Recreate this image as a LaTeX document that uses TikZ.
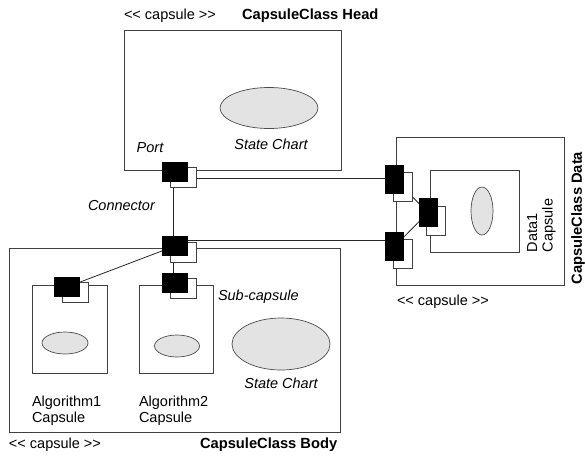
\documentclass[tikz,border=0pt]{standalone}
\usepackage{fontspec}
\setmainfont{Liberation Sans}[Ligatures=TeXOff]
\usetikzlibrary{shapes.geometric,backgrounds}
\begin{document}
\begin{tikzpicture}[x=1pt,y=-1pt,
  every node/.style={inner sep=0pt, outer sep=0pt},
  frame/.style={draw=black!75, line width=0.8pt},
  chart/.style={ellipse, draw=black!70, fill=black!11, line width=0.7pt},
  wire/.style={draw=black!85, line width=0.8pt},
  txt/.style={font=\fontsize{14.5}{15.5}\selectfont},
  itxt/.style={font=\fontsize{14.5}{15.5}\selectfont\itshape},
  btxt/.style={font=\fontsize{14.7}{16}\selectfont\bfseries},
  hport/.style={fill=black, minimum width=26pt, minimum height=20pt},
  hshadow/.style={draw=black!75, fill=white, line width=0.8pt, minimum width=26pt, minimum height=20pt},
  vport/.style={fill=black, minimum width=19pt, minimum height=29pt},
  vshadow/.style={draw=black!75, fill=white, line width=0.8pt, minimum width=19pt, minimum height=29pt}]
\useasboundingbox (0,0) rectangle (585,458);

% capsule frames
\draw[frame] (124,30) rectangle (341,170);
\draw[frame] (9,248) rectangle (340,432);
\draw[frame] (396,137) rectangle (564,285);
\draw[frame] (32,285) rectangle (107,373);
\draw[frame] (139,285) rectangle (213,373);
\draw[frame] (430,170) rectangle (519,252);

% state charts
\node[chart, minimum width=98pt, minimum height=41pt] (headchart) at (269,108) {};
\node[chart, minimum width=98pt, minimum height=52pt] (bodychart) at (281,344) {};
\node[chart, minimum width=46pt, minimum height=22pt] (alg1chart) at (65,343) {};
\node[chart, minimum width=45pt, minimum height=22pt] (alg2chart) at (177,346) {};
\node[chart, minimum width=22pt, minimum height=48pt] (datachart) at (482,211) {};

% port positions
\coordinate (hp) at (175,172);
\coordinate (bp) at (175,246);
\coordinate (a1p) at (67,287);
\coordinate (a2p) at (175,283);
\coordinate (dtp) at (394.5,179);
\coordinate (dbp) at (394.5,246.5);
\coordinate (dip) at (428,212.5);

% port shadows
\node[hshadow] (hpw) at ([xshift=8pt,yshift=-5pt]hp) {};
\node[hshadow] (bpw) at ([xshift=8pt,yshift=-6pt]bp) {};
\node[hshadow] (a1w) at ([xshift=8pt,yshift=-5pt]a1p) {};
\node[hshadow] (a2w) at ([xshift=8pt,yshift=-5pt]a2p) {};
\node[vshadow] (dtw) at ([xshift=8pt,yshift=-8pt]dtp) {};
\node[vshadow] (dbw) at ([xshift=8pt,yshift=-7pt]dbp) {};
\node[vshadow] (diw) at ([xshift=8pt,yshift=-8pt]dip) {};

% ports
\node[hport] (hpb) at (hp) {};
\node[hport] (bpb) at (bp) {};
\node[hport] (a1b) at (a1p) {};
\node[hport] (a2b) at (a2p) {};
\node[vport] (dtb) at (dtp) {};
\node[vport] (dbb) at (dbp) {};
\node[vport] (dib) at (dip) {};

% connectors, behind the ports
\begin{scope}[on background layer]
\draw[wire] ([yshift=-6pt]hpb.east -| hpw.east) -- ([yshift=-6pt]hpb.east -| dtb.west);
\draw[wire] ([yshift=6pt]bpb.east) -- ([yshift=6pt]bpb.east -| dbb.west);
\draw[wire] ([xshift=-2pt]hpw.south -| hpb.south) -- ([xshift=-2pt]bpb.north);
\draw[wire] ([xshift=-2pt]bpw.south -| bpb.south) -- ([xshift=-2pt]a2b.north);
\draw[wire] (bpb.center) -- (a1b.center);
\draw[wire] (dtb.center) -- (dib.center);
\draw[wire] (dbb.center) -- (dib.center);
\end{scope}

% labels
\node[txt, anchor=west] (headst) at (124,16) {<< capsule >>};
\node[btxt, anchor=west] (headname) at (242,16) {CapsuleClass Head};
\node[itxt] (headcl) at (271,144) {State Chart};
\node[itxt] (portl) at (150,148) {Port};
\node[itxt, anchor=west] (connl) at (88,206) {Connector};
\node[itxt, anchor=west] (subl) at (218,297) {Sub-capsule};
\node[itxt] (bodycl) at (281,383) {State Chart};
\node[txt, anchor=north west, align=left] (alg1l) at (32,396) {Algorithm1\\Capsule};
\node[txt, anchor=north west, align=left] (alg2l) at (139,396) {Algorithm2\\Capsule};
\node[txt, anchor=west] (bodyst) at (9,445) {<< capsule >>};
\node[btxt, anchor=west] (bodyname) at (200,445) {CapsuleClass Body};
\node[txt, anchor=west] (datast) at (397,302) {<< capsule >>};
\node[txt, rotate=90, anchor=west, align=left] (datal) at (541.5,252) {Data1\\Capsule};
\node[btxt, rotate=90] (dataname) at (578,218) {CapsuleClass Data};
\end{tikzpicture}
\end{document}
